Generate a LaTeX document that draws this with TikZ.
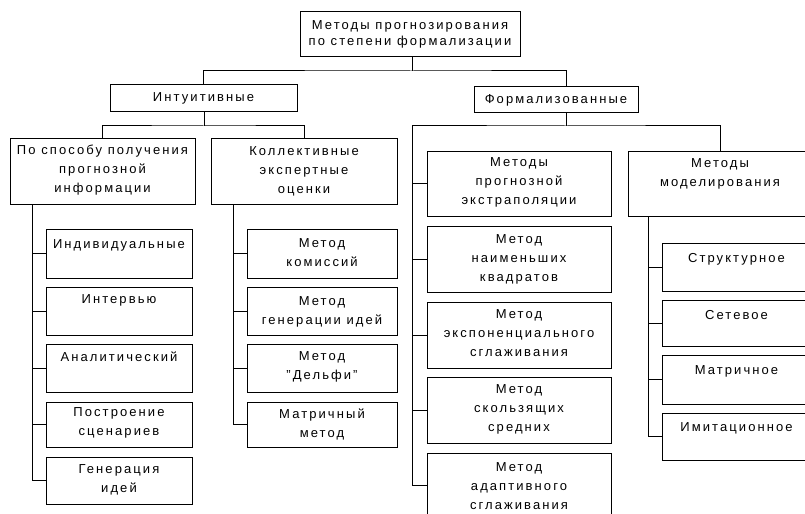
\documentclass[tikz,border=0pt]{standalone}
\usepackage{fontspec}
\setmainfont{Liberation Sans}[LetterSpace=16]
\usetikzlibrary{fit}

\begin{document}
\begin{tikzpicture}[x=0.75pt,y=-0.75pt,
  box/.style={draw=black, line width=0.75pt, inner sep=0pt},
  lbl/.style={anchor=north, align=center, inner sep=0pt,
    font=\fontsize{9.75pt}{14.25pt}\selectfont,
    execute at begin node={\rule{0pt}{7.5pt}}},
  tight/.style={font=\fontsize{9.75pt}{12pt}\selectfont},
  wire/.style={line width=0.75pt}]

\useasboundingbox (0,0) rectangle (805,513);
\fill[white] (0,0) rectangle (805,513);
\clip (0,0) rectangle (805,513);

% --- root and first level
\node[box, fit={(300,12)(520,57)}] (top) {};
\node[lbl, tight] (top-t) at (410,20) {Методы прогнозирования\\по степени формализации};

\node[box, fit={(110,85)(297,112)}] (intu) {};
\node[lbl] (intu-t) at (203.5,91) {Интуитивные};
\node[box, fit={(474,87)(638,113)}] (form) {};
\node[lbl] (form-t) at (556,93) {Формализованные};

% --- intuitive branch
\node[box, fit={(10,139)(195,204)}] (sp) {};
\node[lbl] (sp-t) at (102.5,145) {По способу получения\\прогнозной\\информации};
\node[box, fit={(211,139)(397,204)}] (kol) {};
\node[lbl] (kol-t) at (304,146) {Коллективные\\экспертные\\оценки};

\node[box, fit={(46,229)(192,278)}] (ind) {};
\node[lbl] (ind-t) at (119,238.5) {Индивидуальные};
\node[box, fit={(46,287)(192,335)}] (int) {};
\node[lbl] (int-t) at (119,293) {Интервью};
\node[box, fit={(46,344)(192,392)}] (ana) {};
\node[lbl] (ana-t) at (119,351) {Аналитический};
\node[box, fit={(46,402)(192,447)}] (pos) {};
\node[lbl] (pos-t) at (119,407) {Построение\\сценариев};
\node[box, fit={(46,457)(192,504)}] (gen) {};
\node[lbl] (gen-t) at (119,464) {Генерация\\идей};

\node[box, fit={(247,229)(397,278)}] (kom) {};
\node[lbl] (kom-t) at (322,238) {Метод\\комиссий};
\node[box, fit={(247,287)(397,335)}] (gid) {};
\node[lbl] (gid-t) at (322,296) {Метод\\генерации идей};
\node[box, fit={(247,344)(397,392)}] (del) {};
\node[lbl] (del-t) at (322,351) {Метод\\"Дельфи"};
\node[box, fit={(247,402)(397,447)}] (mat) {};
\node[lbl] (mat-t) at (322,409) {Матричный\\метод};

% --- formalized branch
\node[box, fit={(427,152)(611,216)}] (ext) {};
\node[lbl] (ext-t) at (519,157) {Методы\\прогнозной\\экстраполяции};
\node[box, fit={(427,226)(611,292)}] (nk) {};
\node[lbl] (nk-t) at (519,234) {Метод\\наименьших\\квадратов};
\node[box, fit={(427,302)(611,368)}] (exp) {};
\node[lbl] (exp-t) at (519,309) {Метод\\экспоненциального\\сглаживания};
\node[box, fit={(427,377)(611,443)}] (sk) {};
\node[lbl] (sk-t) at (519,384) {Метод\\скользящих\\средних};
\node[box, fit={(427,453)(611,517)}] (ad) {};
\node[lbl] (ad-t) at (519,462) {Метод\\адаптивного\\сглаживания};

\node[box, fit={(628,152)(812,216)}] (mod) {};
\node[lbl] (mod-t) at (720,158) {Методы\\моделирования};
\node[box, fit={(662,243)(811,291)}] (str) {};
\node[lbl] (str-t) at (736.5,252) {Структурное};
\node[box, fit={(662,300)(811,346)}] (set) {};
\node[lbl] (set-t) at (736.5,309) {Сетевое};
\node[box, fit={(662,355)(811,404)}] (mtr) {};
\node[lbl] (mtr-t) at (736.5,364) {Матричное};
\node[box, fit={(662,413)(811,460)}] (imi) {};
\node[lbl] (imi-t) at (736.5,421) {Имитационное};

% --- connectors
\coordinate (j0) at (412,71);
\draw[wire] (top.south -| j0) -- (j0);
\draw[wire] (intu.north) |- (j0) -| ([xshift=7.5pt]form.north);

\coordinate (j1) at (204,126);
\draw[wire] (intu.south -| j1) -- (j1);
\draw[wire] (sp.north) |- (j1) -| (kol.north);

\coordinate (j2) at (566,126);
\coordinate (t2) at (412,126);
\draw[wire] (form.south -| j2) -- (j2);
\draw[wire] (t2) -- (j2) -| (mod.north);
\draw[wire] (t2) |- (ad.west);
\foreach \b in {ext,nk,exp,sk} \draw[wire] (\b.west) -- (\b.west -| t2);

\coordinate (tl) at (32,204);
\draw[wire] (tl) |- (gen.west);
\foreach \b in {ind,int,ana,pos} \draw[wire] (\b.west) -- (\b.west -| tl);

\coordinate (tk) at (233,204);
\draw[wire] (tk) |- (mat.west);
\foreach \b in {kom,gid,del} \draw[wire] (\b.west) -- (\b.west -| tk);

\coordinate (tm) at (648,216);
\draw[wire] (tm) |- (imi.west);
\foreach \b in {str,set,mtr} \draw[wire] (\b.west) -- (\b.west -| tm);

\end{tikzpicture}
\end{document}
